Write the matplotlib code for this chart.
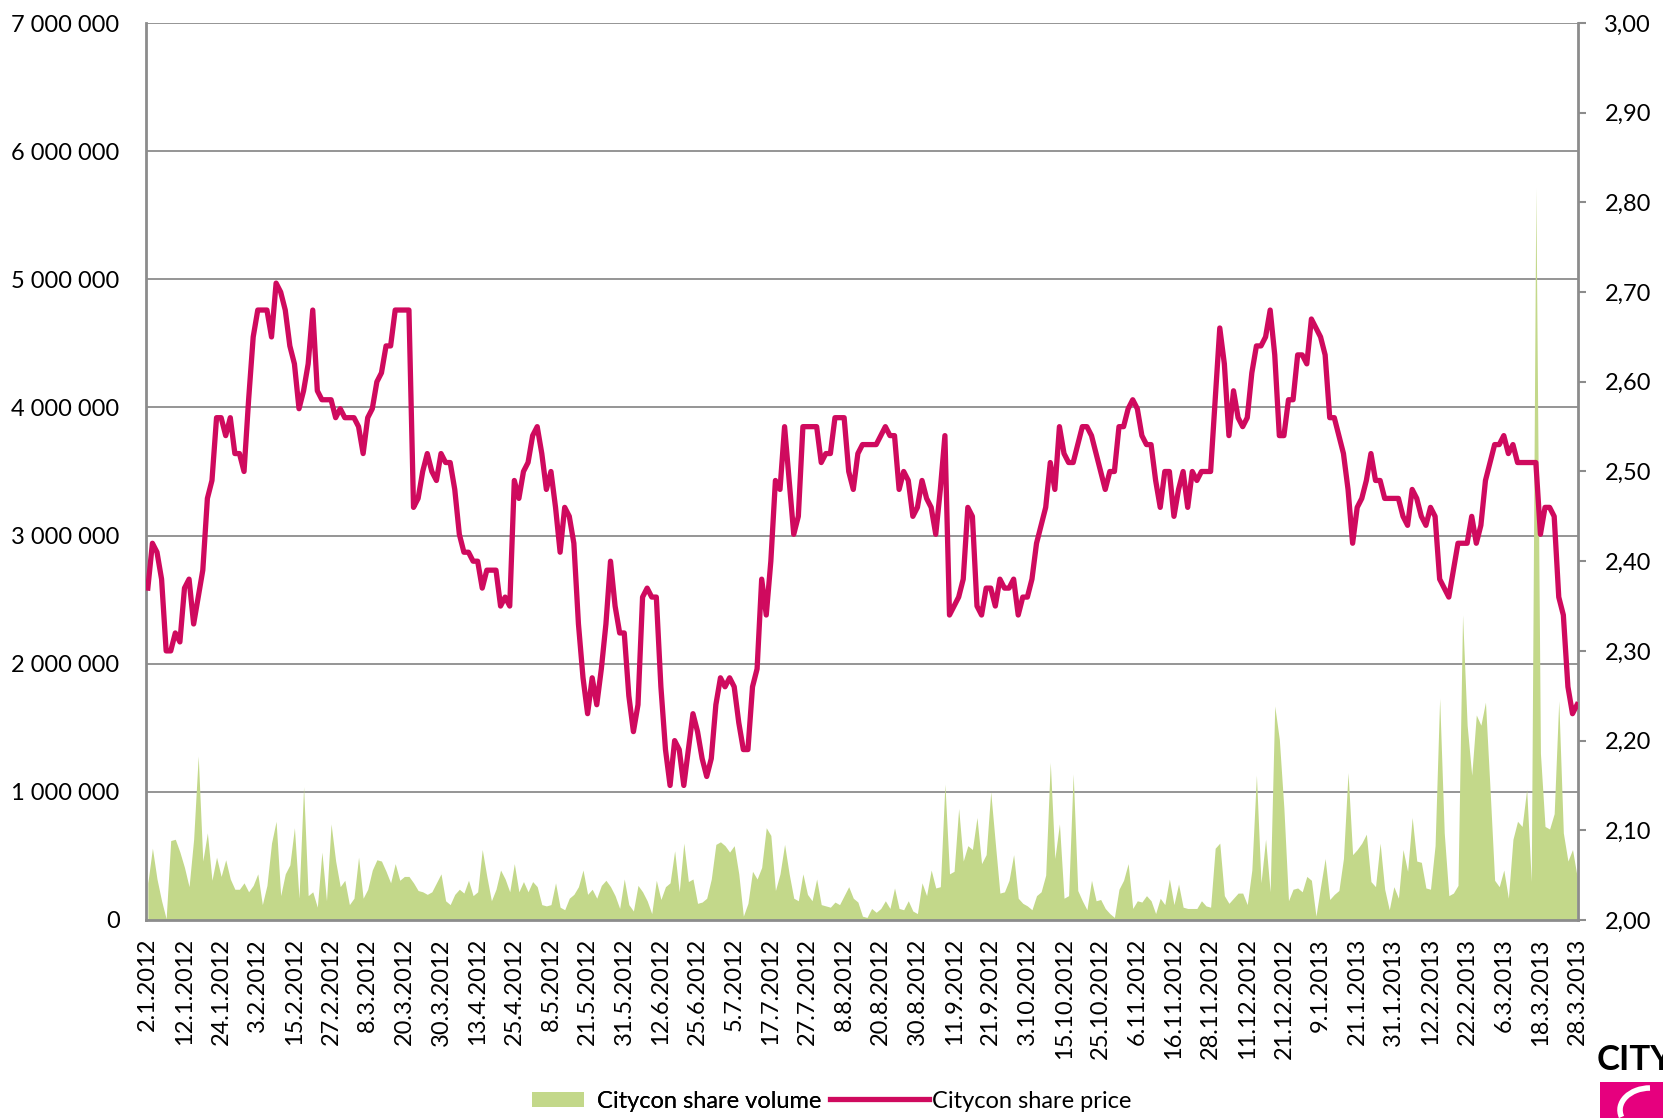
#!/usr/bin/env python3
# Citycon share price and traded volume, 2.1.2012 - 28.3.2013 (daily trading days)

import matplotlib
matplotlib.use("Agg")
import matplotlib.pyplot as plt
import matplotlib.ticker
import matplotlib.patches
import matplotlib.lines
import numpy as np

plt.rcParams["font.family"] = ["Lato", "DejaVu Sans"]

# Tick labels, one for every 8th trading day ...
date_labels = [
    "2.1.2012", "12.1.2012", "24.1.2012", "3.2.2012", "15.2.2012", "27.2.2012",
    "8.3.2012", "20.3.2012", "30.3.2012", "13.4.2012", "25.4.2012", "8.5.2012",
    "21.5.2012", "31.5.2012", "12.6.2012", "25.6.2012", "5.7.2012", "17.7.2012",
    "27.7.2012", "8.8.2012", "20.8.2012", "30.8.2012", "11.9.2012", "21.9.2012",
    "3.10.2012", "15.10.2012", "25.10.2012", "6.11.2012", "16.11.2012", "28.11.2012",
    "11.12.2012", "21.12.2012", "9.1.2013", "21.1.2013", "31.1.2013", "12.2.2013",
    "22.2.2013", "6.3.2013", "18.3.2013", "28.3.2013",
]

# Share price [EUR], one row per 8 trading days ...
price = [
    2.37, 2.42, 2.41, 2.38, 2.30, 2.30, 2.32, 2.31,
    2.37, 2.38, 2.33, 2.36, 2.39, 2.47, 2.49, 2.56,
    2.56, 2.54, 2.56, 2.52, 2.52, 2.50, 2.58, 2.65,
    2.68, 2.68, 2.68, 2.65, 2.71, 2.70, 2.68, 2.64,
    2.62, 2.57, 2.59, 2.62, 2.68, 2.59, 2.58, 2.58,
    2.58, 2.56, 2.57, 2.56, 2.56, 2.56, 2.55, 2.52,
    2.56, 2.57, 2.60, 2.61, 2.64, 2.64, 2.68, 2.68,
    2.68, 2.68, 2.46, 2.47, 2.50, 2.52, 2.50, 2.49,
    2.52, 2.51, 2.51, 2.48, 2.43, 2.41, 2.41, 2.40,
    2.40, 2.37, 2.39, 2.39, 2.39, 2.35, 2.36, 2.35,
    2.49, 2.47, 2.50, 2.51, 2.54, 2.55, 2.52, 2.48,
    2.50, 2.46, 2.41, 2.46, 2.45, 2.42, 2.33, 2.27,
    2.23, 2.27, 2.24, 2.28, 2.33, 2.40, 2.35, 2.32,
    2.32, 2.25, 2.21, 2.24, 2.36, 2.37, 2.36, 2.36,
    2.26, 2.19, 2.15, 2.20, 2.19, 2.15, 2.19, 2.23,
    2.21, 2.18, 2.16, 2.18, 2.24, 2.27, 2.26, 2.27,
    2.26, 2.22, 2.19, 2.19, 2.26, 2.28, 2.38, 2.34,
    2.40, 2.49, 2.48, 2.55, 2.49, 2.43, 2.45, 2.55,
    2.55, 2.55, 2.55, 2.51, 2.52, 2.52, 2.56, 2.56,
    2.56, 2.50, 2.48, 2.52, 2.53, 2.53, 2.53, 2.53,
    2.54, 2.55, 2.54, 2.54, 2.48, 2.50, 2.49, 2.45,
    2.46, 2.49, 2.47, 2.46, 2.43, 2.48, 2.54, 2.34,
    2.35, 2.36, 2.38, 2.46, 2.45, 2.35, 2.34, 2.37,
    2.37, 2.35, 2.38, 2.37, 2.37, 2.38, 2.34, 2.36,
    2.36, 2.38, 2.42, 2.44, 2.46, 2.51, 2.48, 2.55,
    2.52, 2.51, 2.51, 2.53, 2.55, 2.55, 2.54, 2.52,
    2.50, 2.48, 2.50, 2.50, 2.55, 2.55, 2.57, 2.58,
    2.57, 2.54, 2.53, 2.53, 2.49, 2.46, 2.50, 2.50,
    2.45, 2.48, 2.50, 2.46, 2.50, 2.49, 2.50, 2.50,
    2.50, 2.58, 2.66, 2.62, 2.54, 2.59, 2.56, 2.55,
    2.56, 2.61, 2.64, 2.64, 2.65, 2.68, 2.63, 2.54,
    2.54, 2.58, 2.58, 2.63, 2.63, 2.62, 2.67, 2.66,
    2.65, 2.63, 2.56, 2.56, 2.54, 2.52, 2.48, 2.42,
    2.46, 2.47, 2.49, 2.52, 2.49, 2.49, 2.47, 2.47,
    2.47, 2.47, 2.45, 2.44, 2.48, 2.47, 2.45, 2.44,
    2.46, 2.45, 2.38, 2.37, 2.36, 2.39, 2.42, 2.42,
    2.42, 2.45, 2.42, 2.44, 2.49, 2.51, 2.53, 2.53,
    2.54, 2.52, 2.53, 2.51, 2.51, 2.51, 2.51, 2.51,
    2.43, 2.46, 2.46, 2.45, 2.36, 2.34, 2.26, 2.23,
    2.24,
]

# Traded volume [million shares], one row per 8 trading days ...
volume = [
    0.29, 0.56, 0.32, 0.15, 0.01, 0.62, 0.63, 0.53,
    0.41, 0.26, 0.63, 1.28, 0.46, 0.68, 0.31, 0.49,
    0.34, 0.47, 0.32, 0.24, 0.24, 0.29, 0.22, 0.27,
    0.36, 0.12, 0.27, 0.60, 0.77, 0.19, 0.36, 0.43,
    0.72, 0.17, 1.04, 0.19, 0.22, 0.10, 0.53, 0.15,
    0.75, 0.46, 0.26, 0.31, 0.12, 0.17, 0.49, 0.17,
    0.24, 0.39, 0.47, 0.46, 0.38, 0.29, 0.44, 0.31,
    0.34, 0.34, 0.29, 0.23, 0.22, 0.20, 0.22, 0.29,
    0.36, 0.15, 0.12, 0.20, 0.24, 0.21, 0.31, 0.19,
    0.22, 0.55, 0.34, 0.15, 0.24, 0.39, 0.32, 0.22,
    0.44, 0.22, 0.30, 0.22, 0.30, 0.26, 0.12, 0.11,
    0.12, 0.29, 0.10, 0.08, 0.17, 0.20, 0.26, 0.39,
    0.20, 0.24, 0.17, 0.27, 0.31, 0.26, 0.19, 0.09,
    0.32, 0.12, 0.07, 0.27, 0.22, 0.15, 0.05, 0.31,
    0.16, 0.26, 0.29, 0.54, 0.22, 0.60, 0.30, 0.32,
    0.13, 0.14, 0.17, 0.32, 0.59, 0.61, 0.58, 0.53,
    0.58, 0.36, 0.03, 0.13, 0.38, 0.32, 0.41, 0.72,
    0.66, 0.23, 0.36, 0.59, 0.36, 0.17, 0.15, 0.36,
    0.20, 0.15, 0.32, 0.12, 0.11, 0.10, 0.14, 0.12,
    0.19, 0.26, 0.17, 0.14, 0.03, 0.02, 0.09, 0.06,
    0.09, 0.15, 0.09, 0.25, 0.09, 0.08, 0.15, 0.07,
    0.05, 0.29, 0.19, 0.39, 0.25, 0.26, 1.06, 0.36,
    0.38, 0.87, 0.46, 0.58, 0.55, 0.80, 0.44, 0.51,
    1.00, 0.60, 0.21, 0.22, 0.31, 0.51, 0.17, 0.13,
    0.11, 0.08, 0.19, 0.22, 0.35, 1.23, 0.48, 0.75,
    0.17, 0.19, 1.14, 0.23, 0.15, 0.08, 0.31, 0.15,
    0.16, 0.09, 0.05, 0.02, 0.24, 0.31, 0.44, 0.09,
    0.15, 0.14, 0.19, 0.15, 0.05, 0.17, 0.12, 0.32,
    0.12, 0.28, 0.10, 0.09, 0.09, 0.09, 0.15, 0.11,
    0.10, 0.56, 0.60, 0.19, 0.13, 0.17, 0.21, 0.21,
    0.12, 0.39, 1.13, 0.29, 0.63, 0.22, 1.67, 1.41,
    0.87, 0.15, 0.24, 0.25, 0.22, 0.34, 0.31, 0.03,
    0.26, 0.48, 0.16, 0.20, 0.23, 0.48, 1.15, 0.51,
    0.55, 0.60, 0.67, 0.30, 0.26, 0.60, 0.24, 0.08,
    0.26, 0.17, 0.55, 0.38, 0.80, 0.46, 0.45, 0.25,
    0.24, 0.58, 1.73, 0.68, 0.19, 0.21, 0.27, 2.38,
    1.52, 1.13, 1.60, 1.52, 1.70, 1.02, 0.31, 0.26,
    0.39, 0.17, 0.63, 0.77, 0.73, 1.02, 0.30, 5.71,
    1.30, 0.73, 0.71, 0.83, 1.71, 0.68, 0.46, 0.55,
    0.34,
]

# Define colours ...
green = "#C3D88A"
crimson = "#CF0A5E"
grey = "#8C8C8C"

# **************************************************************************

x = np.arange(len(price))
vol = np.array(volume) * 1.0e6

# Create figure ...
fg = plt.figure(figsize = (16.63, 11.18), dpi = 100)

# Create axes ...
ax1 = fg.add_axes([146 / 1663, 1 - 920 / 1118, (1578 - 146) / 1663, (920 - 23) / 1118])
ax2 = ax1.twinx()

# Plot volume ...
ax1.fill_between(x, vol, 0, color = green, linewidth = 0, zorder = 2)

# Plot price ...
ax2.plot(x, price, color = crimson, linewidth = 3.8, solid_joinstyle = "round", zorder = 3)

# Configure primary axis ...
ax1.set_xlim(-0.4, len(price) - 0.8)
ax1.set_ylim(0, 7.0e6)
ax1.set_yticks(np.arange(0, 7.0e6 + 1, 1.0e6))
ax1.yaxis.set_major_formatter(
    matplotlib.ticker.FuncFormatter(lambda v, p: f"{int(round(v)):,d}".replace(",", " "))
)
ax1.set_xticks(np.arange(0, len(price), 8))
ax1.set_xticklabels(date_labels, rotation = 90, va = "top", ha = "center")
ax1.grid(axis = "y", color = grey, linewidth = 1.3)
ax1.set_axisbelow(True)
ax1.tick_params(axis = "y", length = 0, pad = 19, labelsize = 17, colors = "black")
ax1.tick_params(axis = "x", length = 0, pad = 13, labelsize = 17, colors = "black")
for side in ["top", "right"]:
    ax1.spines[side].set_visible(False)
for side in ["left", "bottom"]:
    ax1.spines[side].set_color(grey)
    ax1.spines[side].set_linewidth(2.0)

# Configure secondary axis ...
ax2.set_ylim(2.0, 3.0)
ax2.set_yticks(np.arange(2.0, 3.001, 0.1))
ax2.yaxis.set_major_formatter(
    matplotlib.ticker.FuncFormatter(lambda v, p: f"{v:.2f}".replace(".", ","))
)
ax2.tick_params(axis = "y", direction = "out", length = 6, width = 1.5, color = grey, pad = 13, labelsize = 17)
for side in ["top", "left", "bottom"]:
    ax2.spines[side].set_visible(False)
ax2.spines["right"].set_color(grey)
ax2.spines["right"].set_linewidth(2.0)

# Add legend entries ...
lg1 = fg.legend(
    handles = [matplotlib.patches.Patch(facecolor = green, edgecolor = "none", label = "Citycon share volume")],
    loc = "center left",
    bbox_to_anchor = (532 / 1663, 1 - 1101 / 1118),
    frameon = False,
    fontsize = 17,
    handlelength = 2.2,
    handleheight = 0.6,
    handletextpad = 0.55,
    borderpad = 0,
    borderaxespad = 0,
)
fg.legend(
    handles = [matplotlib.lines.Line2D([], [], color = crimson, linewidth = 3.8, label = "Citycon share price")],
    loc = "center left",
    bbox_to_anchor = (830 / 1663, 1 - 1101 / 1118),
    frameon = False,
    fontsize = 17,
    handlelength = 4.2,
    handletextpad = 0.1,
    borderpad = 0,
    borderaxespad = 0,
)
fg.add_artist(lg1)

# Add (cropped) logo ...
fg.text(1597 / 1663, 1 - 1060 / 1118, "CITY", fontsize = 25, fontweight = "bold", color = "black", va = "center", ha = "left")
fg.patches.append(
    matplotlib.patches.Rectangle(
        (1600 / 1663, 0.0), 70 / 1663, 36 / 1118,
        transform = fg.transFigure, facecolor = "#E6007E", edgecolor = "none",
    )
)
fg.patches.append(
    matplotlib.patches.Arc(
        (1650 / 1663, 8 / 1118), 60 / 1663, 44 / 1118, theta1 = 90, theta2 = 200,
        transform = fg.transFigure, color = "white", linewidth = 4,
    )
)

# Save figure ...
fg.savefig("out.png", dpi = 100)
plt.close(fg)
